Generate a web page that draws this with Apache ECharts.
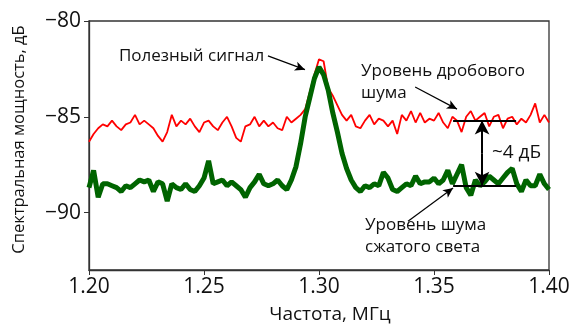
<!DOCTYPE html>
<html>
<head>
<meta charset="utf-8">
<script src="https://cdn.jsdelivr.net/npm/echarts@6/dist/echarts.min.js"></script>
<style>
  html, body { margin: 0; padding: 0; background: #fff; }
  #chart { width: 573px; height: 329px; }
</style>
</head>
<body>
<div id="chart"></div>
<script>
// --- Datos ---
const freqStart = 1.200;
const freqStep = 0.002;

// Nivel de ruido de disparo (rojo), dB
const shotNoise = [
  -86.3, -85.9, -85.6, -85.4, -85.5, -85.2, -85.5, -85.7, -85.4, -85.3,
  -84.9, -85.4, -85.2, -85.4, -85.6, -86.0, -86.3, -85.8, -84.9, -85.5,
  -85.2, -85.4, -85.1, -85.5, -85.8, -85.3, -85.2, -85.5, -85.7, -85.3,
  -85.0, -85.5, -86.1, -86.3, -85.5, -85.4, -85.0, -85.5, -85.2, -85.5,
  -85.3, -85.6, -85.7, -85.0, -85.3, -85.1, -84.9, -84.6, -83.7, -82.8,
  -82.0, -82.1, -83.5, -83.9, -84.4, -84.9, -85.2, -84.9, -85.5, -85.6,
  -85.2, -84.9, -85.4, -85.1, -85.2, -85.5, -85.2, -85.9, -84.9, -85.2,
  -84.7, -85.3, -84.8, -85.3, -85.1, -85.2, -84.8, -85.3, -85.6, -85.0,
  -85.2, -85.8, -85.0, -84.7, -85.2, -85.0, -84.8, -85.5, -85.0, -84.9,
  -85.6, -85.1, -85.0, -85.4, -85.1, -85.3, -84.9, -84.3, -85.3, -84.9,
  -85.3
];

// Nivel de ruido de luz comprimida (verde), dB
const squeezedNoise = [
  -88.7, -87.8, -89.2, -88.5, -88.5, -88.6, -88.7, -88.9, -88.6, -88.7,
  -88.5, -88.3, -88.4, -88.3, -88.9, -88.4, -88.5, -89.4, -88.5, -88.7,
  -88.8, -88.5, -88.8, -88.9, -88.6, -88.2, -87.3, -88.5, -88.4, -88.3,
  -88.6, -88.4, -88.6, -88.8, -89.2, -88.7, -88.4, -88.0, -88.5, -88.6,
  -88.5, -88.3, -88.6, -88.8, -88.3, -87.6, -86.4, -85.0, -84.0, -83.0,
  -82.4, -82.8, -83.6, -84.8, -85.8, -86.9, -87.7, -88.3, -88.7, -88.9,
  -88.6, -88.7, -88.5, -88.6, -87.9, -88.2, -88.8, -88.9, -88.7, -88.5,
  -88.6, -88.1, -88.5, -88.4, -88.4, -88.2, -88.5, -88.3, -87.8, -88.5,
  -88.0, -87.5, -88.7, -89.1, -88.3, -88.6, -88.4, -88.1, -88.3, -88.5,
  -88.2, -87.9, -87.7, -88.5, -88.9, -88.3, -88.6, -88.6, -88.0, -88.5,
  -88.8
];

const xTicks = [1.20, 1.25, 1.30, 1.35, 1.40];
const yTicks = [-90, -85, -80];

// Anotaciones (coordenadas en unidades de datos)
const shotLevel = -85.2;
const squeezedLevel = -88.6;
const levelFrom = 1.3583;
const levelTo = 1.3857;
const gapX = 1.3709;
// -------------------------------

const fontFamily = '"Open Sans", "Noto Sans", sans-serif';
const textColor = '#111';

const toPairs = (vals) => vals.map((v, i) => [+(freqStart + i * freqStep).toFixed(4), v]);
const fmtY = (v) => (v < 0 ? '\u2212' + Math.abs(v) : String(v));

const chart = echarts.init(document.getElementById('chart'), null, { renderer: 'canvas' });

const arrowLine = (from, to) => [
  { coord: from, symbol: 'none' },
  { coord: to, symbol: 'arrow', symbolSize: [7, 10] }
];

const textPoint = (coord, text, size) => ({
  coord: coord,
  symbol: 'circle',
  symbolSize: 0,
  label: {
    show: true,
    position: 'right',
    distance: 0,
    formatter: text,
    color: textColor,
    fontFamily: fontFamily,
    fontSize: size || 17,
    lineHeight: 22,
    align: 'left'
  }
});

chart.setOption({
  animation: false,
  backgroundColor: '#fff',
  grid: {
    left: 89, right: 24, top: 21, bottom: 52,
    show: true, borderColor: '#333', borderWidth: 1.3
  },
  xAxis: {
    type: 'value',
    min: 1.2, max: 1.4, interval: 0.05,
    name: 'Частота, МГц',
    nameLocation: 'middle',
    nameGap: 35,
    nameTextStyle: { fontFamily: fontFamily, fontSize: 19, color: textColor, padding: [0, 0, 0, 22] },
    axisLine: { lineStyle: { color: '#333', width: 1.3 } },
    axisTick: { show: true, length: 5, lineStyle: { color: '#333' }, customValues: xTicks },
    axisLabel: {
      customValues: xTicks,
      formatter: (v) => v.toFixed(2),
      fontFamily: fontFamily, fontSize: 21, color: textColor, margin: 7
    },
    splitLine: { show: false }
  },
  yAxis: {
    type: 'value',
    min: -93, max: -80,
    name: 'Спектральная мощность, дБ',
    nameLocation: 'middle',
    nameGap: 61,
    nameTextStyle: { fontFamily: fontFamily, fontSize: 16.5, color: textColor, padding: [0, 0, 0, 12] },
    axisLine: { show: true, lineStyle: { color: '#333', width: 1.3 } },
    axisTick: { show: true, length: 5, lineStyle: { color: '#333' }, customValues: yTicks },
    axisLabel: {
      customValues: yTicks,
      formatter: fmtY,
      fontFamily: fontFamily, fontSize: 21, color: textColor, margin: 8
    },
    splitLine: { show: false }
  },
  series: [
    {
      name: 'Уровень дробового шума',
      type: 'line',
      data: toPairs(shotNoise),
      showSymbol: false,
      lineStyle: { color: '#ff0000', width: 1.8 },
      z: 2
    },
    {
      name: 'Уровень шума сжатого света',
      type: 'line',
      data: toPairs(squeezedNoise),
      showSymbol: false,
      lineStyle: { color: '#006400', width: 5 },
      z: 3
    },
    {
      name: 'anotaciones',
      type: 'line',
      data: [],
      z: 5,
      silent: true,
      markLine: {
        silent: true,
        animation: false,
        label: { show: false },
        lineStyle: { color: '#000', width: 1.2, type: 'solid' },
        data: [
          // niveles
          [{ coord: [levelFrom, shotLevel], symbol: 'none', lineStyle: { width: 2 } },
           { coord: [levelTo, shotLevel], symbol: 'none' }],
          [{ coord: [levelFrom, squeezedLevel], symbol: 'none', lineStyle: { width: 2 } },
           { coord: [levelTo, squeezedLevel], symbol: 'none' }],
          // flecha doble ~4 dB
          [{ coord: [gapX, -86.9], symbol: 'none', lineStyle: { width: 2 } },
           { coord: [gapX, shotLevel], symbol: 'arrow', symbolSize: [11, 14] }],
          [{ coord: [gapX, -86.9], symbol: 'none', lineStyle: { width: 2 } },
           { coord: [gapX, squeezedLevel], symbol: 'arrow', symbolSize: [11, 14] }],
          // flechas de texto
          arrowLine([1.2778, -81.82], [1.2939, -82.54]),
          arrowLine([1.3418, -83.45], [1.3600, -84.6]),
          arrowLine([1.3387, -90.46], [1.3583, -88.72])
        ]
      },
      markPoint: {
        silent: true,
        animation: false,
        data: [
          textPoint([1.2130, -81.85], 'Полезный сигнал'),
          textPoint([1.3183, -83.2], 'Уровень дробового\nшума'),
          textPoint([1.3752, -86.85], '~4 дБ', 19),
          textPoint([1.3200, -91.25], 'Уровень шума\nсжатого света')
        ]
      }
    }
  ]
});
</script>
</body>
</html>
